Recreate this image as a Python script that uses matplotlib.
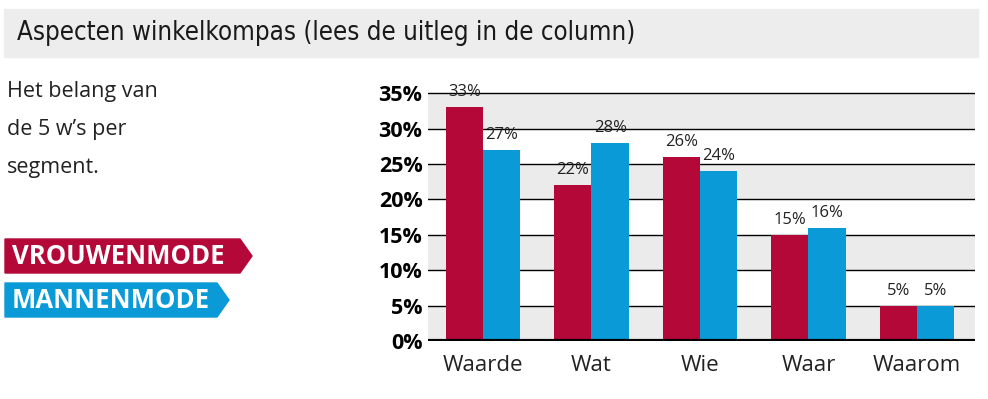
import matplotlib.pyplot as plt
import numpy as np
from matplotlib.patches import Polygon, Rectangle

categories = ["Waarde", "Wat", "Wie", "Waar", "Waarom"]
vrouwen = [33, 22, 26, 15, 5]
mannen = [27, 28, 24, 16, 5]
yticks = [0, 5, 10, 15, 20, 25, 30, 35]

red = "#B30838"
blue = "#0A9AD7"
band = "#EBEBEB"

fig = plt.figure(figsize=(9.88, 3.99), dpi=100)
fig.patch.set_facecolor("white")

# title band
fig.patches.append(Rectangle((4 / 988, 1 - 57 / 399), 974 / 988, 48 / 399,
                             transform=fig.transFigure, color="#EDEDED", zorder=0))
fig.text(17 / 988, 1 - 33 / 399, "Aspecten winkelkompas (lees de uitleg in de column)",
         fontsize=18.5, family="DejaVu Sans", fontstretch="condensed",
         va="center", color="#1a1a1a")

# left intro text
for i, line in enumerate(["Het belang van", "de 5 w\u2019s per", "segment."]):
    fig.text(7 / 988, 1 - (92 + i * 38) / 399, line, fontsize=15.5, family="Open Sans",
             va="center", color="#222222")

# legend tags
def tag(y0, y1, x1, color, label):
    h = y1 - y0
    pts = [(5, y0), (x1 - 12, y0), (x1, (y0 + y1) / 2), (x1 - 12, y1), (5, y1)]
    pts = [(x / 988, 1 - y / 399) for x, y in pts]
    fig.patches.append(Polygon(pts, closed=True, transform=fig.transFigure,
                               color=color, zorder=1))
    fig.text(12 / 988, 1 - (y0 + h / 2 + 1) / 399, label, fontsize=18.5, fontweight="bold",
             color="white", va="center", family="Open Sans", zorder=2)

tag(239, 273, 252, red, "VROUWENMODE")
tag(283, 317, 229, blue, "MANNENMODE")

ax = fig.add_axes([428 / 988, 1 - 341 / 399, 547 / 988, (341 - 79) / 399])
x = np.arange(len(categories))
w = 0.345
ax.set_xlim(-0.507, 4.535)
ax.set_ylim(0, 37)

for lo in [0, 10, 20, 30]:
    ax.axhspan(lo, lo + 5, color=band, zorder=0, lw=0)
for y in yticks[1:]:
    ax.axhline(y, color="black", lw=1, zorder=1)
ax.axhline(0, color="black", lw=3, zorder=3)

b1 = ax.bar(x - w / 2, vrouwen, w, color=red, zorder=2)
b2 = ax.bar(x + w / 2, mannen, w, color=blue, zorder=2)
for bars in (b1, b2):
    for b in bars:
        ax.annotate(f"{int(b.get_height())}%", (b.get_x() + b.get_width() / 2, b.get_height()),
                    xytext=(0, 5), textcoords="offset points", ha="center", va="bottom",
                    fontsize=12, family="Open Sans", color="#222222", zorder=4)

for s in ax.spines.values():
    s.set_visible(False)
ax.set_yticks(yticks)
ax.set_yticklabels([f"{v}%" for v in yticks], fontsize=15.5, fontweight="bold", family="Open Sans")
ax.set_xticks(x)
ax.set_xticklabels(categories, fontsize=16, family="Open Sans", color="#222222")
ax.tick_params(length=0)
ax.tick_params(axis="y", pad=4)
ax.tick_params(axis="x", pad=10)

fig.savefig("out.png", dpi=100)
